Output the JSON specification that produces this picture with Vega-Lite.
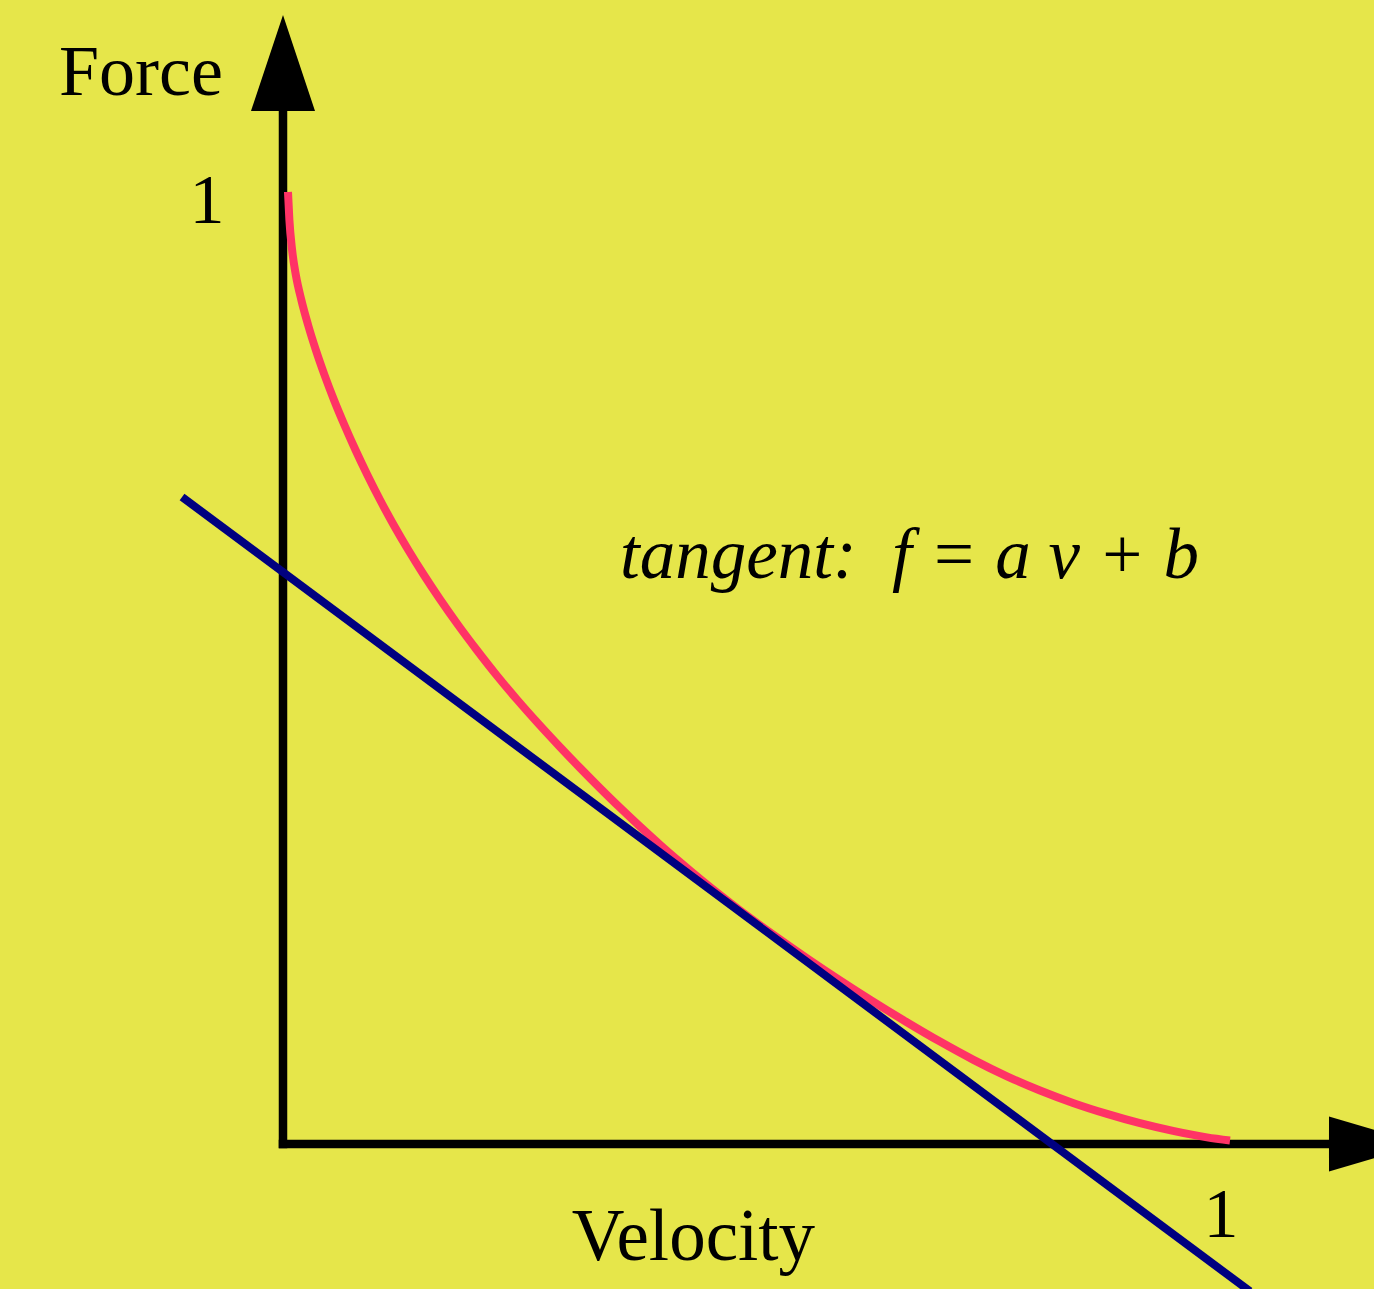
{
  "$schema": "https://vega.github.io/schema/vega-lite/v6.json",
  "width": 1374,
  "height": 1289,
  "autosize": {"type": "none"},
  "padding": 0,
  "background": "#E6E64A",
  "config": {"view": {"stroke": null}},
  "datasets": {
    "curve": [
      {"v": 0.00527, "f": 1.0},
      {"v": 0.00675, "f": 0.97059},
      {"v": 0.00960, "f": 0.93908},
      {"v": 0.01355, "f": 0.91282},
      {"v": 0.01936, "f": 0.88655},
      {"v": 0.02648, "f": 0.86029},
      {"v": 0.03465, "f": 0.83403},
      {"v": 0.04378, "f": 0.80777},
      {"v": 0.05380, "f": 0.78151},
      {"v": 0.06477, "f": 0.75525},
      {"v": 0.07648, "f": 0.72899},
      {"v": 0.08903, "f": 0.70273},
      {"v": 0.10243, "f": 0.67647},
      {"v": 0.11677, "f": 0.65021},
      {"v": 0.13217, "f": 0.62395},
      {"v": 0.14863, "f": 0.59769},
      {"v": 0.16614, "f": 0.57143},
      {"v": 0.18471, "f": 0.54517},
      {"v": 0.20443, "f": 0.51891},
      {"v": 0.22511, "f": 0.49265},
      {"v": 0.24726, "f": 0.46639},
      {"v": 0.26962, "f": 0.44128},
      {"v": 0.29219, "f": 0.41702},
      {"v": 0.31329, "f": 0.39506},
      {"v": 0.33439, "f": 0.37384},
      {"v": 0.35549, "f": 0.35326},
      {"v": 0.37658, "f": 0.33351},
      {"v": 0.39768, "f": 0.31439},
      {"v": 0.41878, "f": 0.29611},
      {"v": 0.43987, "f": 0.27847},
      {"v": 0.46097, "f": 0.26155},
      {"v": 0.48207, "f": 0.24527},
      {"v": 0.51688, "f": 0.22006},
      {"v": 0.55274, "f": 0.19517},
      {"v": 0.58755, "f": 0.17195},
      {"v": 0.61920, "f": 0.15168},
      {"v": 0.65717, "f": 0.12847},
      {"v": 0.69304, "f": 0.10756},
      {"v": 0.72785, "f": 0.08866},
      {"v": 0.76371, "f": 0.07111},
      {"v": 0.79852, "f": 0.05620},
      {"v": 0.83333, "f": 0.04317},
      {"v": 0.86920, "f": 0.03162},
      {"v": 0.90401, "f": 0.02185},
      {"v": 0.93882, "f": 0.01376},
      {"v": 0.97468, "f": 0.00693},
      {"v": 0.99895, "f": 0.00368}
    ],
    "tangent": [
      {"v": -0.1065, "f": 0.6796},
      {"v": 1.0200, "f": -0.1547}
    ],
    "axes": [
      {"x1": 0, "y1": 0, "x2": 0, "y2": 1.0851},
      {"x1": 0, "y1": 0, "x2": 1.1034, "y2": 0}
    ],
    "arrows": [
      {"dir": "up", "v": 0, "f": 1.1355},
      {"dir": "right", "v": 1.1524, "f": 0}
    ],
    "labels": [
      {"kind": "left", "label": "Force", "v": -0.2362, "f": 1.1019},
      {"kind": "one", "label": "1", "v": -0.0802, "f": 0.9674},
      {"kind": "one", "label": "1", "v": 0.9895, "f": -0.0977},
      {"kind": "velocity", "label": "Velocity", "v": 0.4330, "f": -0.1218},
      {"kind": "italic", "label": "tangent:\u00a0 f = a v + b", "v": 0.3555, "f": 0.5945}
    ]
  },
  "encoding": {
    "x": {"type": "quantitative", "scale": {"domain": [-0.29852, 1.15084], "nice": false, "zero": false}, "axis": null},
    "y": {"type": "quantitative", "scale": {"domain": [-0.15231, 1.20168], "nice": false, "zero": false}, "axis": null}
  },
  "layer": [
    {
      "data": {"name": "axes"},
      "mark": {"type": "rule", "color": "#000000", "strokeWidth": 8.5, "strokeCap": "square"},
      "encoding": {
        "x": {"field": "x1", "type": "quantitative"},
        "y": {"field": "y1", "type": "quantitative"},
        "x2": {"field": "x2"},
        "y2": {"field": "y2"}
      }
    },
    {
      "data": {"name": "arrows"},
      "transform": [{"filter": "datum.dir == 'up'"}],
      "mark": {"type": "point", "shape": "M0,-1L0.6667,1L-0.6667,1Z", "filled": true, "color": "#000000", "opacity": 1, "size": 9216, "strokeWidth": 0},
      "encoding": {
        "x": {"field": "v", "type": "quantitative"},
        "y": {"field": "f", "type": "quantitative"}
      }
    },
    {
      "data": {"name": "arrows"},
      "transform": [{"filter": "datum.dir == 'right'"}],
      "mark": {"type": "point", "shape": "M1,0L-1,-0.5914L-1,0.5914Z", "filled": true, "color": "#000000", "opacity": 1, "size": 8649, "strokeWidth": 0},
      "encoding": {
        "x": {"field": "v", "type": "quantitative"},
        "y": {"field": "f", "type": "quantitative"}
      }
    },
    {
      "data": {"name": "curve"},
      "mark": {"type": "line", "color": "#FF3366", "strokeWidth": 8, "interpolate": "monotone", "strokeCap": "butt"},
      "encoding": {
        "x": {"field": "v", "type": "quantitative"},
        "y": {"field": "f", "type": "quantitative"}
      }
    },
    {
      "data": {"name": "tangent"},
      "mark": {"type": "line", "color": "#000080", "strokeWidth": 8, "strokeCap": "butt"},
      "encoding": {
        "x": {"field": "v", "type": "quantitative"},
        "y": {"field": "f", "type": "quantitative"}
      }
    },
    {
      "data": {"name": "labels"},
      "transform": [{"filter": "datum.kind == 'left'"}],
      "mark": {"type": "text", "font": "Liberation Serif", "fontSize": 72, "align": "left", "baseline": "alphabetic", "color": "#000000"},
      "encoding": {
        "x": {"field": "v", "type": "quantitative"},
        "y": {"field": "f", "type": "quantitative"},
        "text": {"field": "label"}
      }
    },
    {
      "data": {"name": "labels"},
      "transform": [{"filter": "datum.kind == 'one'"}],
      "mark": {"type": "text", "font": "Liberation Serif", "fontSize": 70, "align": "center", "baseline": "alphabetic", "color": "#000000"},
      "encoding": {
        "x": {"field": "v", "type": "quantitative"},
        "y": {"field": "f", "type": "quantitative"},
        "text": {"field": "label"}
      }
    },
    {
      "data": {"name": "labels"},
      "transform": [{"filter": "datum.kind == 'velocity'"}],
      "mark": {"type": "text", "font": "Liberation Serif", "fontSize": 73, "align": "center", "baseline": "alphabetic", "color": "#000000"},
      "encoding": {
        "x": {"field": "v", "type": "quantitative"},
        "y": {"field": "f", "type": "quantitative"},
        "text": {"field": "label"}
      }
    },
    {
      "data": {"name": "labels"},
      "transform": [{"filter": "datum.kind == 'italic'"}],
      "mark": {"type": "text", "font": "Liberation Serif", "fontSize": 71, "fontStyle": "italic", "align": "left", "baseline": "alphabetic", "color": "#000000"},
      "encoding": {
        "x": {"field": "v", "type": "quantitative"},
        "y": {"field": "f", "type": "quantitative"},
        "text": {"field": "label"}
      }
    }
  ]
}
